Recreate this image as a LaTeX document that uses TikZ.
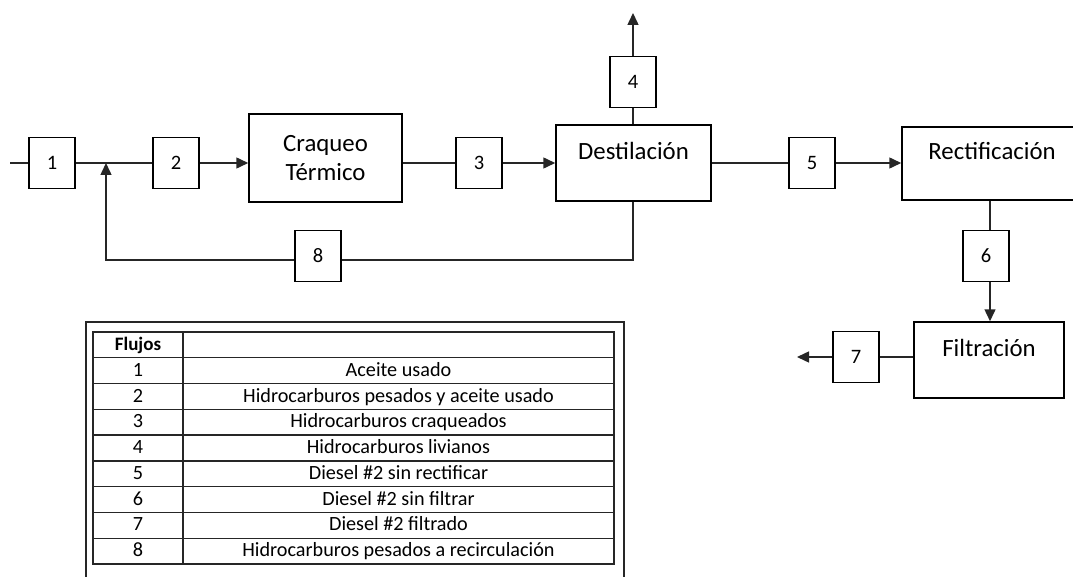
\documentclass[tikz,border=0pt]{standalone}
\usepackage{fontspec}
\setmainfont{Carlito}
\usetikzlibrary{arrows.meta}
\begin{document}
\begin{tikzpicture}[x=1pt,y=-1pt,
  flow/.style={line width=1.5pt, draw=black!85},
  arr/.style={flow, -{Triangle[length=12pt,width=11pt]}},
  numbox/.style={draw, line width=1.5pt, inner sep=0pt, minimum width=46pt, minimum height=51pt, font=\fontsize{20.5}{24}\selectfont},
  unit/.style={draw, line width=1.5pt, inner sep=0pt},
  ulabel/.style={font=\fontsize{24.8}{29.5}\selectfont, inner sep=0pt, align=center},
  tline/.style={line width=1.3pt, draw=black!85},
  ttext/.style={font=\fontsize{20.2}{24}\selectfont, inner sep=0pt, text height=0.7em, text depth=0.2em, yshift=-3pt}
]
\useasboundingbox (0,0) rectangle (1073,577);

% process units
\node[unit, minimum width=153pt, minimum height=88pt] (craq) at (325.5,158) {};
\node[ulabel] (craqL) at (325.5,158) {Craqueo\\Térmico};
\node[unit, minimum width=155pt, minimum height=76pt] (dest) at (633.5,163) {};
\node[ulabel] (destL) at (633.5,151) {Destilación};
\node[unit, minimum width=188pt, minimum height=73pt] (rect) at (996,163.5) {};
\node[ulabel] (rectL) at (992,151) {Rectificación};
\node[unit, minimum width=150pt, minimum height=76pt] (filt) at (989,360) {};
\node[ulabel] (filtL) at (989,348) {Filtración};

% stream boxes
\node[numbox] (b1) at (52,163) {1};
\node[numbox] (b2) at (176,163) {2};
\node[numbox] (b3) at (479,163) {3};
\node[numbox] (b4) at (633,82) {4};
\node[numbox] (b5) at (812,163) {5};
\node[numbox] (b6) at (986,256) {6};
\node[numbox] (b7) at (856,357) {7};
\node[numbox] (b8) at (318,256) {8};

% connectors
\coordinate (in) at (10,163);
\coordinate (j) at (106,163);
\coordinate (top4) at (633,13);
\coordinate (c6) at (990,256);
\coordinate (out7) at (797,357);
\coordinate (rl) at (633,260);
\coordinate (rr) at (106,260);

\draw[flow] (in) -- (b1.west);
\draw[flow] (b1.east) -- (b2.west);
\draw[arr] (b2.east) -- (craq.west |- b2.east);
\draw[flow] (craq.east |- b3.west) -- (b3.west);
\draw[arr] (b3.east) -- (dest.west |- b3.east);
\draw[flow] (dest.north -| b4.south) -- (b4.south);
\draw[arr] (b4.north) -- (top4);
\draw[flow] (dest.east |- b5.west) -- (b5.west);
\draw[arr] (b5.east) -- (rect.west |- b5.east);
\draw[flow] (c6 |- rect.south) -- (c6 |- b6.north);
\draw[arr] (c6 |- b6.south) -- (c6 |- filt.north);
\draw[flow] (filt.west |- b7.east) -- (b7.east);
\draw[arr] (b7.west) -- (out7);
\draw[flow] (dest.south -| rl) -- (rl) -- (b8.east |- rl);
\draw[arr] (b8.west |- rr) -- (rr) -- (j);

% table of flows
\draw[tline] (86,580) -- (86,322) -- (624,322) -- (624,580);
\draw[tline] (93,332) rectangle (614,564);
\draw[tline] (183,332) -- (183,564);
\foreach \i in {1,...,8} {
  \draw[tline] (93,{332+25.78*\i}) -- (614,{332+25.78*\i});
}
\node[ttext, font=\fontsize{19}{22}\selectfont\bfseries] (th) at (138,345) {Flujos};
\node[ttext] (t1n) at (138,370.7) {1};
\node[ttext] (t1) at (398.5,370.7) {Aceite usado};
\node[ttext] (t2n) at (138,396.5) {2};
\node[ttext] (t2) at (398.5,396.5) {Hidrocarburos pesados y aceite usado};
\node[ttext] (t3n) at (138,422.3) {3};
\node[ttext] (t3) at (398.5,422.3) {Hidrocarburos craqueados};
\node[ttext] (t4n) at (138,448.1) {4};
\node[ttext] (t4) at (398.5,448.1) {Hidrocarburos livianos};
\node[ttext] (t5n) at (138,473.9) {5};
\node[ttext] (t5) at (398.5,473.9) {Diesel \#2 sin rectificar};
\node[ttext] (t6n) at (138,499.6) {6};
\node[ttext] (t6) at (398.5,499.6) {Diesel \#2 sin filtrar};
\node[ttext] (t7n) at (138,525.4) {7};
\node[ttext] (t7) at (398.5,525.4) {Diesel \#2 filtrado};
\node[ttext] (t8n) at (138,551.2) {8};
\node[ttext] (t8) at (398.5,551.2) {Hidrocarburos pesados a recirculación};
\end{tikzpicture}
\end{document}
